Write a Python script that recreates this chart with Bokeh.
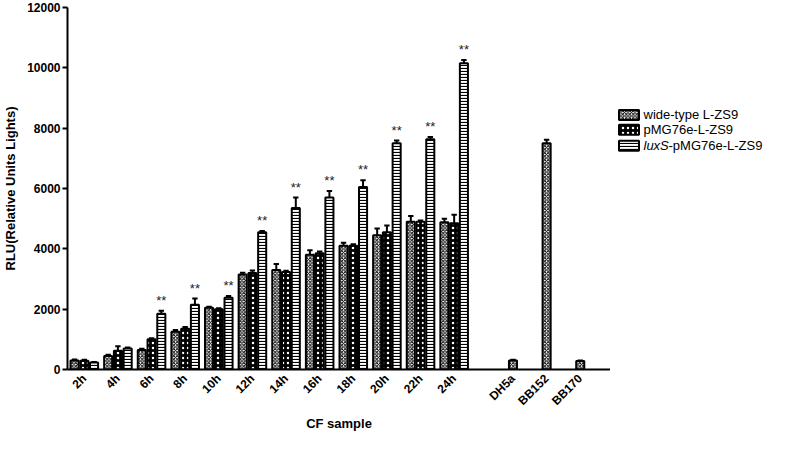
import math
from bokeh.plotting import figure
from bokeh.layouts import row
from bokeh.models import Range1d, FixedTicker, ColumnDataSource
from bokeh.core.properties import value
from bokeh.embed import file_html
from bokeh.resources import INLINE

# ---- data ----
cf_labels = ["2h", "4h", "6h", "8h", "10h", "12h", "14h", "16h", "18h", "20h", "22h", "24h"]
wt_vals = [300, 450, 650, 1250, 2050, 3150, 3300, 3800, 4100, 4450, 4900, 4880]
wt_err = [30, 40, 40, 60, 30, 60, 200, 150, 100, 220, 190, 120]
pmg_vals = [290, 620, 1000, 1350, 2000, 3200, 3230, 3850, 4100, 4550, 4900, 4850]
pmg_err = [30, 150, 40, 60, 30, 80, 40, 60, 50, 220, 40, 280]
lux_vals = [230, 700, 1850, 2150, 2380, 4550, 5350, 5700, 6050, 7500, 7630, 10150]
lux_err = [20, 30, 100, 200, 60, 40, 350, 220, 220, 90, 80, 110]
lux_sig = ["", "", "**", "**", "**", "**", "**", "**", "**", "**", "**", "**"]
ctrl_labels = ["DH5a", "BB152", "BB170"]
ctrl_vals = [300, 7500, 280]
ctrl_err = [20, 120, 20]
series_names = ["wide-type L-ZS9", "pMG76e-L-ZS9", "luxS-pMG76e-L-ZS9"]
y_ticks = [0, 2000, 4000, 6000, 8000, 10000, 12000]

FONT = "Liberation Sans"

# ---- layout helpers (positions on a numeric scale) ----
n = len(cf_labels)
cf_pos = list(range(n))
ctrl_gap = 1.75
ctrl_pos = [n - 1 + ctrl_gap + j for j in range(len(ctrl_labels))]
offsets = [-0.29, 0.0, 0.29]
bw = 0.24
cap = 0.16

styles = [
    dict(fill_color="white", hatch_pattern="diagonal_cross", hatch_color="black", hatch_scale=3.5, hatch_weight=1),
    dict(fill_color="black", hatch_pattern="dot", hatch_color="white", hatch_scale=5, hatch_weight=4),
    dict(fill_color="white", hatch_pattern="horizontal_line", hatch_color="black", hatch_scale=3, hatch_weight=1.2),
]

Y_RANGE = (0, 12000)

p = figure(width=610, height=433, output_backend="svg", toolbar_location=None,
           x_range=Range1d(-0.5, 15.65), y_range=Range1d(*Y_RANGE),
           min_border_top=7, min_border_right=0, min_border_left=0, min_border_bottom=0)
p.outline_line_color = None
p.xgrid.visible = False
p.ygrid.visible = False
p.background_fill_color = "white"

def draw_bars(xs, vals, errs, style):
    src = ColumnDataSource(dict(x=xs, top=vals, up=[v + e for v, e in zip(vals, errs)],
                                cl=[x - cap / 2 for x in xs], cr=[x + cap / 2 for x in xs]))
    p.segment(x0="x", y0="top", x1="x", y1="up", source=src, line_color="black", line_width=2)
    p.segment(x0="cl", y0="up", x1="cr", y1="up", source=src, line_color="black", line_width=2)
    p.vbar(x="x", top="top", bottom=0, width=bw, source=src, line_color="black", line_width=2, **style)

series = [(wt_vals, wt_err), (pmg_vals, pmg_err), (lux_vals, lux_err)]
for k, (vals, errs) in enumerate(series):
    xs = [x + offsets[k] for x in cf_pos]
    draw_bars(xs, vals, errs, styles[k])

draw_bars(ctrl_pos, ctrl_vals, ctrl_err, styles[0])

# significance marks
sig_src = ColumnDataSource(dict(x=[x + offsets[2] for x in cf_pos],
                                y=[v + e for v, e in zip(lux_vals, lux_err)],
                                t=lux_sig))
p.text(x="x", y="y", text="t", source=sig_src, text_align="center", text_baseline="bottom",
       y_offset=-3, text_font=value(FONT), text_font_size="13px", text_color="#222222")

# axes
p.xaxis.ticker = FixedTicker(ticks=cf_pos + ctrl_pos)
p.xaxis.major_label_overrides = {x: l for x, l in zip(cf_pos + ctrl_pos, cf_labels + ctrl_labels)}
p.xaxis.major_label_orientation = math.pi / 4
p.xaxis.major_tick_line_color = None
p.xaxis.major_tick_out = 0
p.xaxis.major_tick_in = 0
p.xaxis.minor_tick_line_color = None
p.xaxis.axis_line_width = 2
p.xaxis.axis_label = "CF sample"
p.xaxis.axis_label_standoff = 0
p.xaxis.major_label_standoff = 7

p.yaxis.ticker = FixedTicker(ticks=y_ticks)
p.yaxis.minor_tick_line_color = None
p.yaxis.major_tick_in = 0
p.yaxis.major_tick_out = 5
p.yaxis.major_tick_line_width = 2
p.yaxis.axis_line_width = 2
p.yaxis.axis_label = "RLU(Relative Units Lights)"
p.yaxis.axis_label_standoff = 6
p.yaxis.major_label_standoff = 2

for ax in (p.xaxis, p.yaxis):
    ax.major_label_text_font = FONT
    ax.major_label_text_font_style = "bold"
    ax.major_label_text_font_size = "12px"
    ax.major_label_text_color = "black"
    ax.axis_label_text_font = FONT
    ax.axis_label_text_font_style = "bold"
    ax.axis_label_text_font_size = "13px"
    ax.axis_label_text_color = "black"
    ax.axis_line_color = "black"

# ---- legend (separate panel; frame is aligned with the main plot's frame) ----
lg = figure(width=161, height=433, output_backend="svg", toolbar_location=None,
            x_range=Range1d(0, 161), y_range=Range1d(*Y_RANGE),
            x_axis_type=None, y_axis_type=None, min_border=0)
lg.outline_line_color = None
lg.xgrid.visible = False
lg.ygrid.visible = False
row_y = [8440, 7950, 7420]
for k in range(3):
    lg.rect(x=[18.5], y=[row_y[k]], width=20, height=10, height_units="screen",
            line_color="black", line_width=2, **styles[k])

lg.text(x=[33, 33], y=row_y[:2], text=series_names[:2], text_baseline="middle", text_align="left",
        text_font=value(FONT), text_font_size="13px", text_color="black")
lg.text(x=[33], y=[row_y[2]], text=["luxS"], text_baseline="middle", text_align="left",
        text_font=value(FONT), text_font_size="13px", text_font_style="italic", text_color="black")
lg.text(x=[58], y=[row_y[2]], text=[series_names[2][4:]], text_baseline="middle", text_align="left",
        text_font=value(FONT), text_font_size="13px", text_color="black")

layout = row(p, lg)
open("out.html", "w").write(file_html(layout, INLINE))
